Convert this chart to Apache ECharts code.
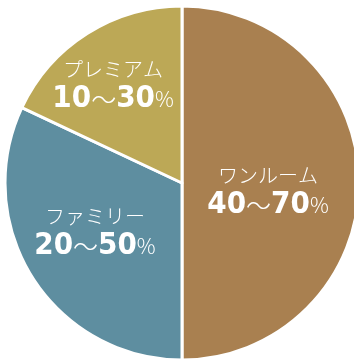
<!DOCTYPE html>
<html>
<head>
<meta charset="utf-8">
<script src="https://cdn.jsdelivr.net/npm/echarts@6/dist/echarts.min.js"></script>
<style>
  html, body { margin: 0; padding: 0; background: #ffffff; }
  #chart { width: 354px; height: 360px; }
</style>
</head>
<body>
<div id="chart"></div>
<script>
// Share of each room type (slice sizes, %)
const categories = ['ワンルーム', 'ファミリー', 'プレミアム'];
const shares = [50, 32, 18];
// Range shown in each label
const rangeLow = [40, 20, 10];
const rangeHigh = [70, 50, 30];
const colors = ['#A98050', '#5E8EA0', '#BCA856'];

// Where each label block sits: [angle clockwise from 12 o'clock (deg), fraction of radius]
const labelPolar = [[94, 0.487], [241.6, 0.559], [325.4, 0.686]];
const LABEL_NUDGE_Y = 4;

const CENTER = [182, 183];
const RADIUS = 177;

const chart = echarts.init(document.getElementById('chart'), null, { renderer: 'canvas' });

const data = categories.map((name, i) => ({
  name: name,
  value: shares[i],
  itemStyle: { color: colors[i] }
}));

chart.setOption({
  animation: false,
  backgroundColor: '#ffffff',
  series: [{
    type: 'pie',
    center: CENTER,
    radius: RADIUS,
    startAngle: 90,
    clockwise: true,
    data: data,
    itemStyle: { borderColor: '#ffffff', borderWidth: 3 },
    label: {
      position: 'inside',
      color: '#ffffff',
      formatter: function (p) {
        const i = p.dataIndex;
        return '{name|' + categories[i] + '}\n{num|' + rangeLow[i] + '}{wave|〜}{num|' + rangeHigh[i] + '}{pct|%}';
      },
      rich: {
        name: {
          fontFamily: '"Noto Sans CJK JP"',
          fontSize: 20,
          fontWeight: 300,
          color: '#ffffff',
          lineHeight: 25
        },
        num: {
          fontFamily: '"DejaVu Sans Condensed", "DejaVu Sans", sans-serif',
          fontSize: 31,
          fontWeight: 'bold',
          color: '#ffffff',
          lineHeight: 34
        },
        wave: {
          fontFamily: '"Noto Sans CJK JP"',
          fontSize: 25,
          fontWeight: 300,
          color: '#ffffff',
          lineHeight: 34
        },
        pct: {
          fontFamily: '"Noto Sans CJK JP"',
          fontSize: 21,
          fontWeight: 300,
          color: '#ffffff',
          lineHeight: 34
        }
      }
    },
    labelLine: { show: false },
    labelLayout: function (params) {
      const r = params.labelRect;
      const cx = r.x + r.width / 2;
      const cy = r.y + r.height / 2;
      const pos = labelPolar[params.dataIndex];
      const a = pos[0] * Math.PI / 180;
      const tx = CENTER[0] + Math.sin(a) * pos[1] * RADIUS;
      const ty = CENTER[1] - Math.cos(a) * pos[1] * RADIUS + LABEL_NUDGE_Y;
      return { dx: tx - cx, dy: ty - cy };
    }
  }]
});
</script>
</body>
</html>
